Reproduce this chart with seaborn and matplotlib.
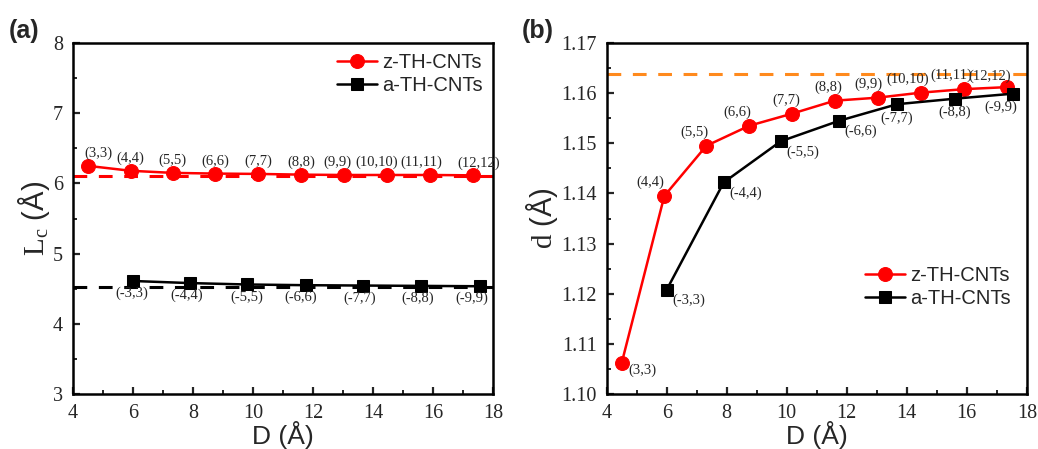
import numpy as np
import pandas as pd
import matplotlib
matplotlib.use("Agg")
import matplotlib.pyplot as plt
from matplotlib.ticker import MultipleLocator, FormatStrFormatter
import seaborn as sns

# ---------------- data ----------------
z_labels = ["(3,3)", "(4,4)", "(5,5)", "(6,6)", "(7,7)", "(8,8)", "(9,9)", "(10,10)", "(11,11)", "(12,12)"]
z_D = [4.5, 5.92, 7.32, 8.75, 10.17, 11.6, 13.03, 14.47, 15.91, 17.33]
z_Lc = [6.25, 6.18, 6.15, 6.14, 6.135, 6.125, 6.12, 6.12, 6.12, 6.115]
z_d = [1.1062, 1.1395, 1.1495, 1.1535, 1.1559, 1.1585, 1.1591, 1.1601, 1.1608, 1.1612]

a_labels = ["(-3,3)", "(-4,4)", "(-5,5)", "(-6,6)", "(-7,7)", "(-8,8)", "(-9,9)"]
a_D = [6.0, 7.9, 9.8, 11.75, 13.68, 15.61, 17.55]
a_Lc = [4.61, 4.58, 4.56, 4.55, 4.545, 4.54, 4.535]
a_d = [1.1208, 1.1422, 1.1504, 1.1545, 1.1578, 1.1589, 1.1599]

z_Lc_ref = 6.11
a_Lc_ref = 4.53
d_ref = 1.1639

series_names = ["z-TH-CNTs", "a-TH-CNTs"]

# --------------- style ----------------
sns.set_style("ticks")
plt.rcParams["font.family"] = ["Liberation Serif", "DejaVu Sans"]
plt.rcParams["mathtext.fontset"] = "custom"
plt.rcParams["mathtext.rm"] = "Liberation Serif"
plt.rcParams["mathtext.it"] = "Liberation Serif"

df_z = pd.DataFrame({"D": z_D, "Lc": z_Lc, "d": z_d, "series": series_names[0]})
df_a = pd.DataFrame({"D": a_D, "Lc": a_Lc, "d": a_d, "series": series_names[1]})

fig = plt.figure(figsize=(10.38, 4.49), dpi=100)
axA = fig.add_axes([0.0703, 0.1225, 0.4047, 0.7817])
axB = fig.add_axes([0.5845, 0.1225, 0.4047, 0.7817])

red = "#ff0000"
blk = "#000000"
orange = "#ff8a1d"
dash = (0, (4.5, 3.8))
ann_fs = 10.5

def style_axes(ax):
    for s in ax.spines.values():
        s.set_linewidth(1.8)
        s.set_color("black")
    ax.tick_params(axis="both", which="major", direction="in", length=5, width=1.6,
                   labelsize=14.5, top=False, right=False, pad=7)
    ax.tick_params(axis="both", which="minor", direction="in", length=3, width=1.4,
                   top=False, right=False)
    ax.set_xlim(4, 18)
    ax.xaxis.set_major_locator(MultipleLocator(2))
    ax.xaxis.set_minor_locator(MultipleLocator(1))
    ax.set_xlabel("D (Å)", fontsize=19, family="Liberation Sans", labelpad=-1)

# ---------- panel (a) ----------
sns.lineplot(data=df_z, x="D", y="Lc", ax=axA, color=red, marker="o", markersize=10,
             markeredgecolor=red, linewidth=1.8, label=series_names[0])
sns.lineplot(data=df_a, x="D", y="Lc", ax=axA, color=blk, marker="s", markersize=8,
             markeredgecolor=blk, linewidth=1.8, label=series_names[1])
axA.axhline(z_Lc_ref, color=red, linestyle=dash, linewidth=2.2, zorder=1)
axA.axhline(a_Lc_ref, color=blk, linestyle=dash, linewidth=2.2, zorder=1)
axA.set_ylim(3, 8)
axA.yaxis.set_major_locator(MultipleLocator(1))
axA.yaxis.set_minor_locator(MultipleLocator(0.5))
style_axes(axA)
axA.set_ylabel(r"$\mathrm{L}_{\mathrm{c}}$ (Å)", fontsize=21, family="Liberation Sans", labelpad=1)
za_dx = [10, 0, 0, 0, 0, 0, -6, -10, -9, 6]
for (x, y, t), dx in zip(zip(z_D, z_Lc, z_labels), za_dx):
    axA.annotate(t, (x, y), xytext=(dx * 0.72, 4), textcoords="offset points",
                 ha="center", va="bottom", fontsize=ann_fs)
aa_dx = [-1, -3, 0, -5, -4, -4, -8]
for (x, y, t), dx in zip(zip(a_D, a_Lc, a_labels), aa_dx):
    axA.annotate(t, (x, y), xytext=(dx * 0.72, -4), textcoords="offset points",
                 ha="center", va="top", fontsize=ann_fs)
axA.legend(loc="upper right", frameon=False, prop={"family": "Liberation Sans", "size": 14.5},
           handlelength=2.0, handletextpad=0.25, labelspacing=0.2, borderaxespad=0.2,
           borderpad=0.3)

# ---------- panel (b) ----------
sns.lineplot(data=df_z, x="D", y="d", ax=axB, color=red, marker="o", markersize=10,
             markeredgecolor=red, linewidth=1.8, label=series_names[0])
sns.lineplot(data=df_a, x="D", y="d", ax=axB, color=blk, marker="s", markersize=8,
             markeredgecolor=blk, linewidth=1.8, label=series_names[1])
axB.axhline(d_ref, color=orange, linestyle=dash, linewidth=2.2, zorder=1)
axB.set_ylim(1.10, 1.17)
axB.yaxis.set_major_locator(MultipleLocator(0.01))
axB.yaxis.set_minor_locator(MultipleLocator(0.005))
axB.yaxis.set_major_formatter(FormatStrFormatter("%.2f"))
style_axes(axB)
axB.set_ylabel(r"$\mathrm{d}$ (Å)", fontsize=21, family="Liberation Sans", labelpad=1)
zb_off = [(14, -4, "left", "center"), (-14, 7, "center", "bottom"), (-12, 7, "center", "bottom"),
          (-12, 7, "center", "bottom"), (-6, 7, "center", "bottom"), (-6, 7, "center", "bottom"),
          (-9, 7, "center", "bottom"), (-13, 7, "center", "bottom"), (-13, 7, "center", "bottom"),
          (-17, 4, "center", "bottom")]
for (x, y, t), (dx, dy, ha, va) in zip(zip(z_D, z_d, z_labels), zb_off):
    if ha == "left":
        axB.annotate(t, (x, y), xytext=(5, -5), textcoords="offset points",
                     ha=ha, va=va, fontsize=ann_fs)
    else:
        axB.annotate(t, (x, y), xytext=(dx * 0.72, dy * 0.72), textcoords="offset points",
                     ha=ha, va=va, fontsize=ann_fs)
ab_off = [(4, -3, "left"), (4, -3, "left"), (4, -3, "left"), (4, -3, "left"),
          (0, -5, "center"), (0, -5, "center"), (-9, -5, "center")]
for (x, y, t), (dx, dy, ha) in zip(zip(a_D, a_d, a_labels), ab_off):
    axB.annotate(t, (x, y), xytext=(dx, dy), textcoords="offset points",
                 ha=ha, va="top", fontsize=ann_fs)
axB.legend(loc="lower right", bbox_to_anchor=(1.0, 0.2), frameon=False,
           prop={"family": "Liberation Sans", "size": 14.5},
           handlelength=2.0, handletextpad=0.25, labelspacing=0.2, borderpad=0.3)

fig.text(0.008, 0.915, "(a)", fontsize=18, fontweight="bold", family="Liberation Sans")
fig.text(0.503, 0.915, "(b)", fontsize=18, fontweight="bold", family="Liberation Sans")

fig.savefig("out.png", dpi=100)
